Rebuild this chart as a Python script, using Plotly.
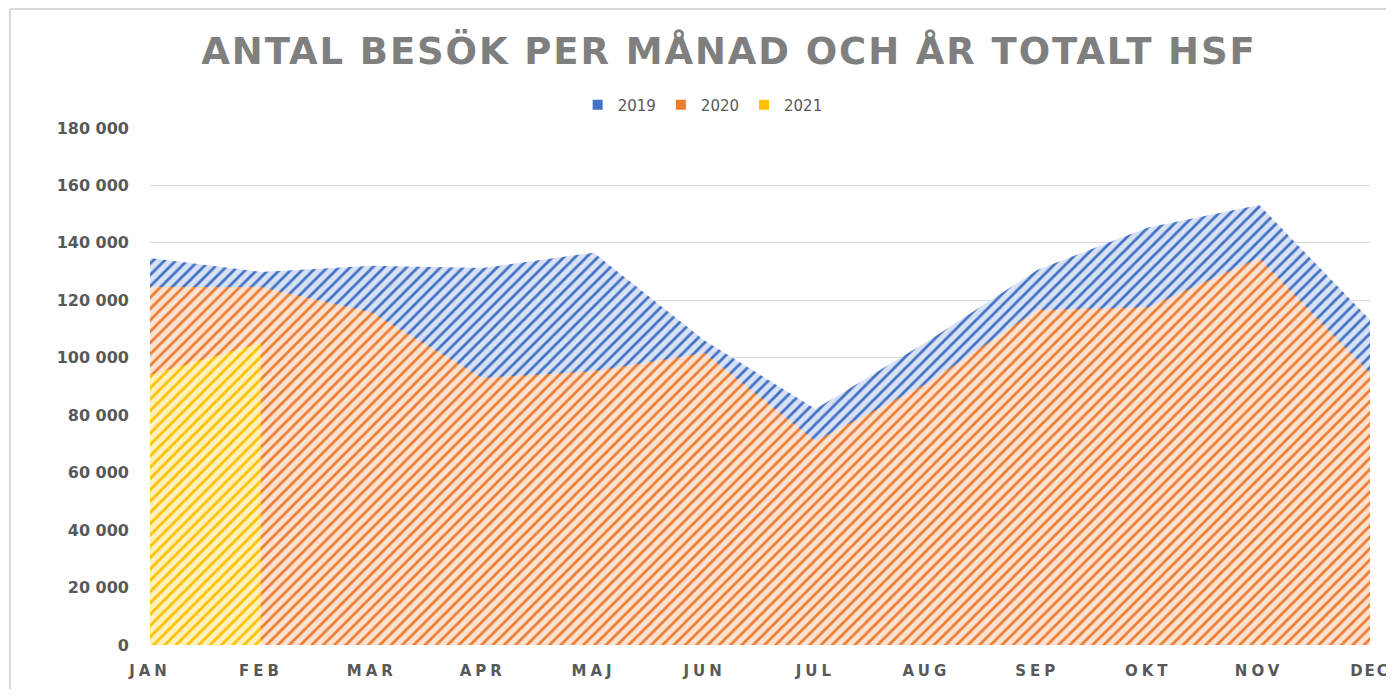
import plotly.graph_objects as go

# Monthly visits
MONTHS = ["JAN", "FEB", "MAR", "APR", "MAJ", "JUN", "JUL", "AUG", "SEP", "OKT", "NOV", "DEC"]
VISITS_2019 = [134700, 129900, 132000, 131300, 136600, 106000, 82200, 105500, 130600, 145400, 153200, 113200]
VISITS_2020 = [124600, 124600, 115800, 93000, 95300, 101700, 71000, 91000, 116600, 117600, 134700, 94700]
VISITS_2021 = [94000, 105200]

# (year, values, stripe colour, background colour)
SERIES = [
    ("2019", VISITS_2019, "#4472c4", "#d8e2f4"),
    ("2020", VISITS_2020, "#ed7d31", "#fce2d2"),
    ("2021", VISITS_2021, "#ffc000", "#fff1bd"),
]

GREY = "#595959"
FONT = "DejaVu Sans"

fig = go.Figure()
for year, values, fg, bg in SERIES:
    fig.add_trace(
        go.Scatter(
            x=MONTHS[: len(values)],
            y=values,
            mode="none",
            fill="tozeroy",
            fillcolor=bg,
            fillpattern=dict(shape="/", fgcolor=fg, bgcolor=bg, fgopacity=1, size=8, solidity=0.35),
            showlegend=False,
            hoverinfo="skip",
        )
    )
# solid squares for the legend, like Excel shows them
for year, values, fg, bg in SERIES:
    fig.add_trace(
        go.Scatter(
            x=[None],
            y=[None],
            mode="markers",
            marker=dict(symbol="square", size=10, color=fg),
            name=year,
        )
    )

spaced = [f'<span style="letter-spacing:4px">{m}</span>' for m in MONTHS]
# last label sits on the right edge; tighten it so it is not clipped
spaced[-1] = f'<span style="letter-spacing:2px">{MONTHS[-1]}</span>'

fig.update_xaxes(
    type="category",
    range=[0, len(MONTHS) - 1],
    tickvals=MONTHS,
    ticktext=spaced,
    automargin=False,
    showgrid=False,
    zeroline=False,
    showline=False,
    ticks="",
    ticklabelstandoff=15,
    tickfont=dict(family=FONT, size=15, color=GREY, weight="bold"),
)
fig.update_yaxes(
    range=[0, 180000],
    dtick=20000,
    tickformat=",d",
    automargin=False,
    showgrid=True,
    gridcolor="#d9d9d9",
    gridwidth=1,
    zeroline=False,
    showline=False,
    ticks="",
    ticklabelstandoff=20,
    tickfont=dict(family=FONT, size=16, color=GREY, weight="bold"),
)

title_text = '<span style="letter-spacing:1.9px">ANTAL BESÖK PER MÅNAD OCH ÅR TOTALT HSF</span>'

# page body adds an 8px margin, so the figure is offset by that
fig.update_layout(
    width=1386,
    height=681,
    margin=dict(l=142, r=24, t=120, b=44),
    paper_bgcolor="white",
    plot_bgcolor="white",
    separators=", ",
    title=dict(
        text=title_text,
        x=721 / 1386,
        xref="container",
        xanchor="center",
        y=0.9369,
        yref="container",
        yanchor="middle",
        font=dict(family=FONT, size=37, color="#7f7f7f", weight="bold"),
    ),
    legend=dict(
        orientation="h",
        x=0.453,
        xanchor="center",
        y=1.0445,
        yanchor="middle",
        itemwidth=30,
        font=dict(family=FONT, size=15, color=GREY),
    ),
    shapes=[
        dict(type="line", xref="paper", yref="paper", x0=-0.1148, x1=1.03, y0=1.2302, y1=1.2302,
             line=dict(color="#d9d9d9", width=2)),
        dict(type="line", xref="paper", yref="paper", x0=-0.1148, x1=-0.1148, y0=1.2302, y1=-0.11,
             line=dict(color="#d9d9d9", width=2)),
    ],
)

fig.write_html("out.html")
